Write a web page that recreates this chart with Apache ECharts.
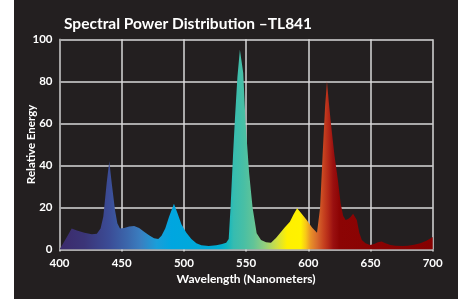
<!DOCTYPE html>
<html>
<head>
<meta charset="utf-8">
<script src="https://cdn.jsdelivr.net/npm/echarts@6/dist/echarts.min.js"></script>
<style>
  html, body { margin: 0; padding: 0; background: #fff; }
  #panel { position: absolute; left: 14px; top: 0; width: 444px; height: 299px; background: #231f20; }
</style>
</head>
<body>
<div id="panel"></div>
<script>
// wavelength (nm) and relative energy
var wavelengths = [400, 405, 409.8, 414, 420, 426, 430, 433, 435.2, 437.9, 440, 442, 444.6, 446.5, 448.6,
  452, 456, 460, 464, 468, 472, 476, 479.4, 482, 485, 488, 492, 495, 498, 502, 506, 510, 514, 520, 526, 530,
  534, 536, 537.5, 539.5, 541, 543, 545, 546.5, 547.7, 549.6, 552.5, 555.2, 558.5, 562, 566, 570,
  574, 577.2, 581, 585.2, 588, 591, 594, 598.7, 603, 607, 609.5, 611.5, 613.5, 615, 616.5, 618.2, 621,
  623.8, 626, 628, 630, 632, 634, 636, 637.5, 639, 641, 643, 646, 649.5, 653, 656, 659, 662, 666, 670,
  676, 680, 685, 690, 695, 700];
var energy = [0, 5, 10, 9, 8, 7.2, 7.5, 10, 15.6, 31.5, 42, 31.5, 18.8, 12.5, 10,
  10.2, 11, 11.2, 10.2, 8.5, 6.8, 5.3, 5, 6.5, 10, 15.5, 21.8, 17, 12, 8, 5, 3, 2, 1.7, 2, 2.5,
  3.2, 5, 20, 45, 62, 82, 95, 89, 84, 60, 36, 20, 7.7, 4.5, 3.5, 3.2,
  5.5, 7.7, 10.5, 13.2, 16.5, 19.6, 17.5, 14, 10.5, 8, 20, 45, 68, 80, 70, 60, 45,
  33, 22, 16, 14, 14.5, 15.5, 17, 17.5, 14, 8, 4.5, 3, 2.1, 2.6, 3.4, 3.8, 3, 2.1, 1.8,
  1.7, 1.8, 2.3, 3, 4.2, 6];

// spectrum colours along the wavelength axis
var colorStops = [
  [400, '#3b2a6b'], [420, '#3b3578'], [440, '#3b4c96'], [455, '#3b68ad'], [465, '#3a7ec0'],
  [478, '#1a9ed9'], [490, '#00a6e0'], [520, '#00aad8'], [530, '#00b0d0'], [535, '#12b7c0'],
  [540, '#36bcb0'], [548, '#48bfa5'], [556, '#62c497'], [565, '#92cf7e'], [575, '#d2e040'],
  [583, '#fff000'], [594, '#fff200'], [598, '#f8c818'], [602, '#e89028'], [607, '#d86b2c'],
  [612, '#c84420'], [616, '#b52a18'], [620, '#9a1010'], [625, '#8c0404'], [700, '#850000']
];

var points = wavelengths.map(function (w, i) { return [w, energy[i]]; });
var stops = colorStops.map(function (c) { return { offset: (c[0] - 400) / 300, color: c[1] }; });

var font = 'Lato, "Open Sans", sans-serif';
var chart = echarts.init(document.getElementById('panel'));
chart.setOption({
  backgroundColor: '#231f20',
  animation: false,
  title: {
    text: 'Spectral Power Distribution –TL841',
    left: 45,
    top: 11,
    textStyle: { color: '#fff', fontSize: 15.5, fontWeight: 'bold', fontFamily: font }
  },
  grid: { left: 45.5, right: 25.3, top: 39.3, bottom: 49.5, outerBoundsMode: 'none' },
  xAxis: {
    type: 'value',
    min: 400,
    max: 700,
    interval: 50,
    name: 'Wavelength (Nanometers)',
    nameLocation: 'middle',
    nameGap: 24,
    nameMoveOverlap: false,
    nameTextStyle: { color: '#fff', fontSize: 12, fontWeight: 'bold', fontFamily: font },
    axisLine: { show: false },
    axisTick: { show: true, length: 2, lineStyle: { color: '#d9d9d9', width: 1.5 } },
    axisLabel: { margin: 8, color: '#fff', fontSize: 11.5, fontWeight: 'bold', fontFamily: font },
    splitLine: { show: true, lineStyle: { color: '#d9d9d9', width: 1.5 } }
  },
  yAxis: {
    type: 'value',
    min: 0,
    max: 100,
    interval: 20,
    name: 'Relative Energy',
    nameLocation: 'middle',
    nameGap: 22,
    nameMoveOverlap: false,
    nameTextStyle: { color: '#fff', fontSize: 11.5, fontWeight: 'bold', fontFamily: font },
    axisLine: { show: true, lineStyle: { color: '#a0a0a0', width: 1.5 } },
    axisTick: { show: false },
    axisLabel: { margin: 7, color: '#fff', fontSize: 11.5, fontWeight: 'bold', fontFamily: font },
    splitLine: { show: true, lineStyle: { color: '#d9d9d9', width: 1.5 } }
  },
  series: [{
    type: 'line',
    data: points,
    symbol: 'none',
    smooth: false,
    lineStyle: { width: 0 },
    areaStyle: {
      opacity: 1,
      color: new echarts.graphic.LinearGradient(0, 0, 1, 0, stops)
    }
  }]
});
</script>
</body>
</html>
